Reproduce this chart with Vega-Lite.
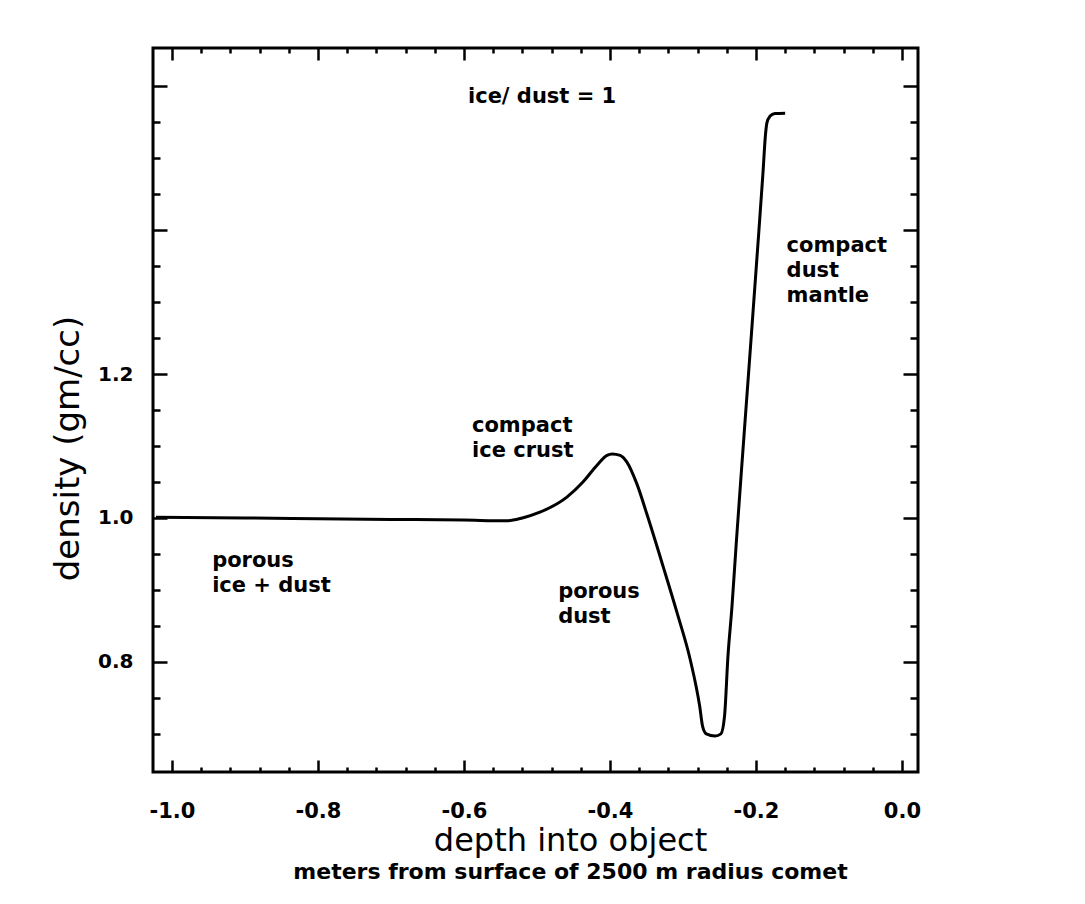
{
  "$schema": "https://vega.github.io/schema/vega-lite/v6.json",
  "width": 765,
  "height": 724,
  "autosize": "none",
  "padding": {"left": 153, "top": 48, "right": 167, "bottom": 132},
  "background": "white",
  "config": {
    "view": {"stroke": "black", "strokeWidth": 3},
    "font": "DejaVu Sans",
    "axis": {"domain": false, "grid": false, "tickColor": "black", "tickWidth": 2.5, "labelColor": "black", "titleColor": "black", "labelFlush": false, "labelOverlap": false}
  },
  "title": {
    "text": "meters from surface of 2500 m radius comet",
    "orient": "bottom",
    "anchor": "middle",
    "frame": "group",
    "font": "DejaVu Sans",
    "fontSize": 22,
    "fontWeight": "bold",
    "color": "black",
    "offset": 6,
    "dx": 35
  },
  "datasets": {
    "curve": [
      {"depth": -1.022, "density": 1.001},
      {"depth": -0.9, "density": 1.0},
      {"depth": -0.8, "density": 0.999},
      {"depth": -0.7, "density": 0.998},
      {"depth": -0.6, "density": 0.997},
      {"depth": -0.541, "density": 0.996},
      {"depth": -0.52, "density": 1.0},
      {"depth": -0.496, "density": 1.008},
      {"depth": -0.459, "density": 1.029},
      {"depth": -0.437, "density": 1.05},
      {"depth": -0.418, "density": 1.073},
      {"depth": -0.404, "density": 1.087},
      {"depth": -0.397, "density": 1.089},
      {"depth": -0.386, "density": 1.087},
      {"depth": -0.377, "density": 1.078},
      {"depth": -0.363, "density": 1.047},
      {"depth": -0.349, "density": 1.004},
      {"depth": -0.327, "density": 0.932},
      {"depth": -0.308, "density": 0.868},
      {"depth": -0.29, "density": 0.803},
      {"depth": -0.277, "density": 0.738},
      {"depth": -0.273, "density": 0.71},
      {"depth": -0.268, "density": 0.7},
      {"depth": -0.256, "density": 0.697},
      {"depth": -0.248, "density": 0.7},
      {"depth": -0.243, "density": 0.725},
      {"depth": -0.2384, "density": 0.807},
      {"depth": -0.2329, "density": 0.876},
      {"depth": -0.2267, "density": 0.969},
      {"depth": -0.2201, "density": 1.0625},
      {"depth": -0.2151, "density": 1.132},
      {"depth": -0.2068, "density": 1.247},
      {"depth": -0.1986, "density": 1.362},
      {"depth": -0.1904, "density": 1.479},
      {"depth": -0.187, "density": 1.532},
      {"depth": -0.185, "density": 1.549},
      {"depth": -0.181, "density": 1.558},
      {"depth": -0.174, "density": 1.562},
      {"depth": -0.16, "density": 1.5625}
    ],
    "notes": [
      {"label": "ice/ dust = 1", "depth": -0.5945, "density": 1.576},
      {"label": "compact\nice crust", "depth": -0.589, "density": 1.119},
      {"label": "porous\nice + dust", "depth": -0.945, "density": 0.932},
      {"label": "porous\ndust", "depth": -0.471, "density": 0.889},
      {"label": "compact\ndust\nmantle", "depth": -0.158, "density": 1.369}
    ]
  },
  "layer": [
    {
      "data": {"name": "curve"},
      "mark": {"type": "line", "color": "black", "strokeWidth": 3, "interpolate": "monotone"},
      "encoding": {
        "x": {
          "field": "depth", "type": "quantitative",
          "scale": {"domain": [-1.026, 0.022], "nice": false, "zero": false},
          "axis": {
            "orient": "bottom",
            "values": [-1, -0.96, -0.92, -0.88, -0.84, -0.8, -0.76, -0.72, -0.68, -0.64, -0.6, -0.56, -0.52, -0.48, -0.44, -0.4, -0.36, -0.32, -0.28, -0.24, -0.2, -0.16, -0.12, -0.08, -0.04, 0],
            "tickSize": {"condition": {"test": "abs(datum.value*5 - round(datum.value*5)) < 0.001", "value": -12}, "value": -5},
            "labelExpr": "abs(datum.value*5 - round(datum.value*5)) < 0.001 ? replace(format(datum.value, '.1f'), '\u2212', '-') : ''",
            "labelFont": "DejaVu Sans", "labelFontSize": 21, "labelFontWeight": "bold", "labelPadding": 40,
            "title": "depth into object",
            "titleFont": "DejaVu Sans", "titleFontSize": 32, "titleFontWeight": "normal",
            "titleX": 417, "titleY": 78, "titleBaseline": "alphabetic", "titleAlign": "center"
          }
        },
        "y": {
          "field": "density", "type": "quantitative",
          "scale": {"domain": [0.647, 1.653], "nice": false, "zero": false},
          "axis": {
            "orient": "left",
            "values": [0.7, 0.75, 0.8, 0.85, 0.9, 0.95, 1, 1.05, 1.1, 1.15, 1.2, 1.25, 1.3, 1.35, 1.4, 1.45, 1.5, 1.55, 1.6],
            "tickSize": {"condition": {"test": "abs(datum.value*5 - round(datum.value*5)) < 0.001", "value": -14}, "value": -7},
            "labelExpr": "(datum.value > 0.79 && datum.value < 1.21 && abs(datum.value*5 - round(datum.value*5)) < 0.001) ? format(datum.value, '.1f') : ''",
            "labelFont": "DejaVu Sans", "labelFontSize": 20, "labelFontWeight": "bold", "labelPadding": 34, "labelBaseline": "middle",
            "title": "density (gm/cc)",
            "titleFont": "DejaVu Sans", "titleFontSize": 34, "titleFontWeight": "normal",
            "titleAngle": 270, "titleX": -75, "titleY": 400, "titleBaseline": "alphabetic", "titleAlign": "center"
          }
        }
      }
    },
    {
      "data": {"name": "curve"},
      "mark": {"type": "line", "strokeOpacity": 0},
      "encoding": {
        "x": {
          "field": "depth", "type": "quantitative",
          "scale": {"domain": [-1.026, 0.022], "nice": false, "zero": false},
          "axis": {
            "orient": "top",
            "values": [-1, -0.96, -0.92, -0.88, -0.84, -0.8, -0.76, -0.72, -0.68, -0.64, -0.6, -0.56, -0.52, -0.48, -0.44, -0.4, -0.36, -0.32, -0.28, -0.24, -0.2, -0.16, -0.12, -0.08, -0.04, 0],
            "tickSize": {"condition": {"test": "abs(datum.value*5 - round(datum.value*5)) < 0.001", "value": -12}, "value": -5},
            "labels": false, "title": null
          }
        },
        "y": {
          "field": "density", "type": "quantitative",
          "scale": {"domain": [0.647, 1.653], "nice": false, "zero": false},
          "axis": {
            "orient": "right",
            "values": [0.7, 0.75, 0.8, 0.85, 0.9, 0.95, 1, 1.05, 1.1, 1.15, 1.2, 1.25, 1.3, 1.35, 1.4, 1.45, 1.5, 1.55, 1.6],
            "tickSize": {"condition": {"test": "abs(datum.value*5 - round(datum.value*5)) < 0.001", "value": -15}, "value": -8},
            "labels": false, "title": null
          }
        }
      }
    },
    {
      "data": {"name": "notes"},
      "mark": {"type": "text", "align": "left", "baseline": "alphabetic", "font": "DejaVu Sans", "fontSize": 21, "fontWeight": "bold", "color": "black", "lineBreak": "\n", "lineHeight": 25},
      "encoding": {
        "x": {"field": "depth", "type": "quantitative", "scale": {"domain": [-1.026, 0.022], "nice": false, "zero": false}, "axis": null},
        "y": {"field": "density", "type": "quantitative", "scale": {"domain": [0.647, 1.653], "nice": false, "zero": false}, "axis": null},
        "text": {"field": "label", "type": "nominal"}
      }
    }
  ],
  "resolve": {"axis": {"x": "independent", "y": "independent"}}
}
